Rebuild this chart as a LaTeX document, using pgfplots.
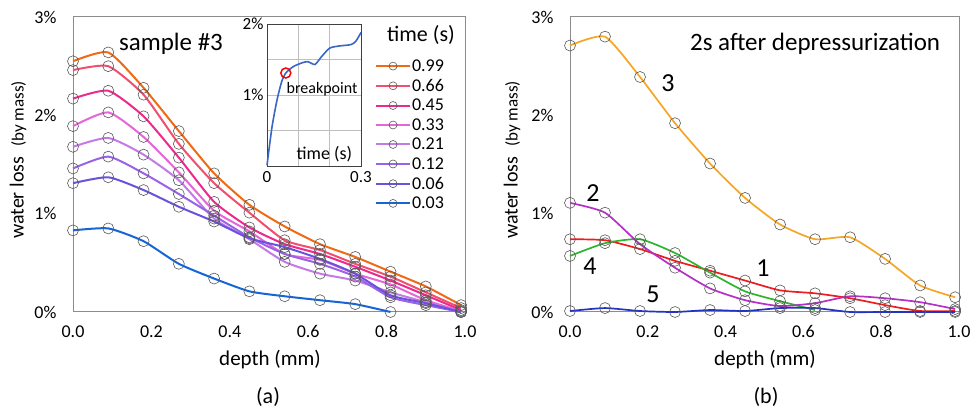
\documentclass[border=0pt]{standalone}
\usepackage{fontspec}
\setmainfont{Carlito}
\usepackage{pgfplots}
\pgfplotsset{compat=1.18}

\definecolor{c099}{HTML}{F06A14}
\definecolor{c066}{HTML}{F0506E}
\definecolor{c045}{HTML}{EC2A8C}
\definecolor{c033}{HTML}{E566D6}
\definecolor{c021}{HTML}{C47AE6}
\definecolor{c012}{HTML}{9A62E6}
\definecolor{c006}{HTML}{6A52DC}
\definecolor{c003}{HTML}{1466D8}
\definecolor{rorange}{HTML}{F5A623}
\definecolor{rpurple}{HTML}{B52FC8}
\definecolor{rred}{HTML}{EE1C1C}
\definecolor{rgreen}{HTML}{2DB52D}
\definecolor{rblue}{HTML}{2233C4}
\definecolor{framegray}{HTML}{8C8C8C}
\definecolor{insetblue}{HTML}{3A66C4}

\newcommand{\fs}[1]{\fontsize{#1}{#1}\selectfont}

\pgfplotsset{
  panel/.style={
    scale only axis, anchor=south west,
    width=392pt, height=295pt,
    xmin=0, xmax=1, ymin=0, ymax=3,
    xtick={0,0.2,0.4,0.6,0.8,1.0},
    xticklabels={0.0,0.2,0.4,0.6,0.8,1.0},
    ytick={0,1,2,3},
    yticklabels={0\%,1\%,2\%,3\%},
    axis line style={framegray, line width=1pt},
    major tick length=0pt,
    tick label style={font=\fs{18}},
    xticklabel style={yshift=-10pt},
    yticklabel style={xshift=-13pt},
    clip=false,
  },
  ser/.style={color=#1, line width=2pt, smooth, tension=0.35, mark=o, mark size=5.5pt,
    mark options={draw=black!65, line width=0.6pt, solid}},
}

\begin{document}
\begin{tikzpicture}
\path[use as bounding box] (0,0) rectangle (971pt,412pt);

% ---- panel (a)
\begin{axis}[panel, at={(73pt,100pt)},
  legend style={at={(0.77,0.86)}, anchor=north west, draw=none, fill=none,
    font=\fs{18}, row sep=4.3pt, inner sep=0pt, nodes={inner sep=1pt}},
  legend cell align=left,
  legend image code/.code={\draw[mark repeat=2,mark phase=2,#1,mark size=4pt]
    plot coordinates {(0pt,0pt) (17pt,0pt) (34pt,0pt)};},
]
\addplot[ser=c099] coordinates {(0,2.55) (0.09,2.64) (0.18,2.28) (0.27,1.84) (0.36,1.41) (0.45,1.09) (0.54,0.87) (0.63,0.69) (0.72,0.56) (0.81,0.41) (0.90,0.26) (0.99,0.07)};
\addlegendentry{0.99}
\addplot[ser=c066] coordinates {(0,2.46) (0.09,2.50) (0.18,2.21) (0.27,1.71) (0.36,1.31) (0.45,1.01) (0.54,0.73) (0.63,0.63) (0.72,0.49) (0.81,0.36) (0.90,0.20) (0.99,0.04)};
\addlegendentry{0.66}
\addplot[ser=c045] coordinates {(0,2.17) (0.09,2.25) (0.18,1.99) (0.27,1.57) (0.36,1.12) (0.45,0.86) (0.54,0.69) (0.63,0.59) (0.72,0.46) (0.81,0.32) (0.90,0.17) (0.99,0.02)};
\addlegendentry{0.45}
\addplot[ser=c033] coordinates {(0,1.89) (0.09,2.03) (0.18,1.78) (0.27,1.42) (0.36,1.03) (0.45,0.82) (0.54,0.59) (0.63,0.53) (0.72,0.39) (0.81,0.28) (0.90,0.12) (0.99,0.01)};
\addlegendentry{0.33}
\addplot[ser=c021] coordinates {(0,1.68) (0.09,1.77) (0.18,1.60) (0.27,1.34) (0.36,0.95) (0.45,0.74) (0.54,0.51) (0.63,0.39) (0.72,0.32) (0.81,0.20) (0.90,0.10) (0.99,0.00)};
\addlegendentry{0.21}
\addplot[ser=c012] coordinates {(0,1.46) (0.09,1.58) (0.18,1.41) (0.27,1.20) (0.36,0.98) (0.45,0.76) (0.54,0.59) (0.63,0.49) (0.72,0.36) (0.81,0.15) (0.90,0.07) (0.99,0.00)};
\addlegendentry{0.12}
\addplot[ser=c006] coordinates {(0,1.31) (0.09,1.37) (0.18,1.24) (0.27,1.07) (0.36,0.92) (0.45,0.75) (0.54,0.66) (0.63,0.54) (0.72,0.39) (0.81,0.17) (0.90,0.09) (0.99,0.00)};
\addlegendentry{0.06}
\addplot[ser=c003] coordinates {(0,0.83) (0.09,0.85) (0.18,0.72) (0.27,0.49) (0.36,0.34) (0.45,0.21) (0.54,0.16) (0.63,0.12) (0.72,0.08) (0.81,0.00)};
\addlegendentry{0.03}
\node[font=\fs{25}] at (axis cs:0.25,2.73) {sample \#3};
\end{axis}

\node[font=\fs{22}] at (421pt,377pt) {time (s)};
\node[font=\fs{20}, rotate=90] at (18pt,252pt) {water loss\enspace{\fs{17}(by mass)}};
\node[font=\fs{21}] at (270pt,52pt) {depth (mm)};
\node[font=\fs{22}] at (268pt,15pt) {(a)};

% ---- inset
\begin{axis}[scale only axis, anchor=south west, at={(267pt,246pt)},
  width=94pt, height=142pt,
  xmin=0, xmax=0.3, ymin=0, ymax=2,
  xtick={0,0.1,0.2,0.3}, xticklabels={0,,,0.3},
  ytick={0,0.5,1,1.5,2}, yticklabels={,,1\%,,2\%},
  grid=major, grid style={black!25, line width=0.8pt},
  axis line style={black!75, line width=0.8pt},
  axis background/.style={fill=white},
  major tick length=0pt,
  tick label style={font=\fs{17}},
  xticklabel style={yshift=-2pt},
  clip=false,
]
\addplot[insetblue, line width=1.6pt, smooth, tension=0.4] coordinates {(0,0.01) (0.016,0.55) (0.032,0.93) (0.047,1.19) (0.06,1.31) (0.084,1.40) (0.11,1.45) (0.13,1.47) (0.153,1.43) (0.174,1.54) (0.2,1.66) (0.23,1.69) (0.268,1.71) (0.284,1.76) (0.3,1.88)};
\addplot[only marks, mark=o, mark size=5pt, red, line width=1.5pt] coordinates {(0.06,1.31)};
\node[font=\fs{16}, anchor=west, inner sep=0pt] at (axis cs:0.062,1.08) {breakpoint};
\node[font=\fs{18}] at (axis cs:0.183,0.16) {time (s)};
\end{axis}

% ---- panel (b)
\begin{axis}[panel, at={(570pt,100pt)}, width=389pt]
\addplot[ser=rorange, line width=1.7pt] coordinates {(0,2.71) (0.09,2.80) (0.18,2.39) (0.27,1.92) (0.36,1.51) (0.45,1.16) (0.54,0.89) (0.63,0.74) (0.72,0.76) (0.81,0.54) (0.90,0.27) (0.99,0.15)};
\addplot[ser=rred, line width=1.7pt] coordinates {(0,0.74) (0.09,0.73) (0.18,0.64) (0.27,0.52) (0.36,0.42) (0.45,0.32) (0.54,0.22) (0.63,0.19) (0.72,0.14) (0.81,0.07) (0.90,0.01) (0.99,0.01)};
\addplot[ser=rgreen, line width=1.7pt] coordinates {(0,0.57) (0.09,0.70) (0.18,0.74) (0.27,0.60) (0.36,0.40) (0.45,0.21) (0.54,0.11) (0.63,0.02)};
\addplot[ser=rpurple, line width=1.7pt] coordinates {(0,1.11) (0.09,1.01) (0.18,0.69) (0.27,0.45) (0.36,0.24) (0.45,0.12) (0.54,0.06) (0.63,0.09) (0.72,0.16) (0.81,0.14) (0.90,0.10) (0.99,0.03)};
\addplot[ser=rblue, line width=1.7pt] coordinates {(0,0.01) (0.09,0.04) (0.18,0.01) (0.27,0.00) (0.36,0.02) (0.45,0.01) (0.54,0.04) (0.63,0.04) (0.72,0.00) (0.81,0.00) (0.90,0.00) (0.99,0.00)};
\node[font=\fs{25}] at (axis cs:0.63,2.73) {2s after depressurization};
\node[font=\fs{26}] at (axis cs:0.252,2.33) {3};
\node[font=\fs{26}] at (axis cs:0.059,1.21) {2};
\node[font=\fs{26}] at (axis cs:0.051,0.47) {4};
\node[font=\fs{26}] at (axis cs:0.496,0.45) {1};
\node[font=\fs{26}] at (axis cs:0.213,0.18) {5};
\end{axis}

\node[font=\fs{20}, rotate=90] at (512pt,252pt) {water loss\enspace{\fs{17}(by mass)}};
\node[font=\fs{21}] at (765pt,52pt) {depth (mm)};
\node[font=\fs{22}] at (766pt,15pt) {(b)};
\end{tikzpicture}
\end{document}
